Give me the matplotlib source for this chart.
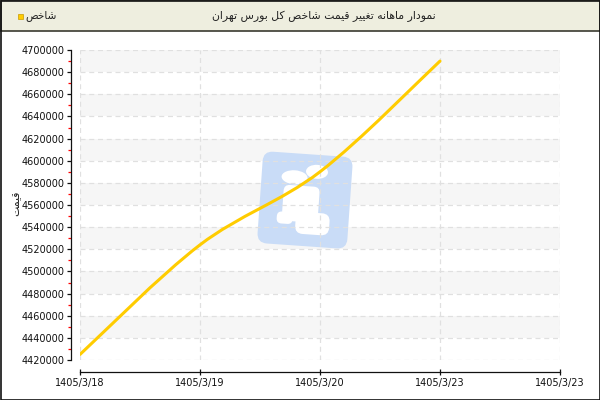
import matplotlib
matplotlib.use("Agg")
import matplotlib.pyplot as plt
import numpy as np
from matplotlib.patches import Rectangle, FancyBboxPatch, Ellipse
from matplotlib.path import Path
from matplotlib.patches import PathPatch
import matplotlib.transforms as mtransforms

# ---------------- data ----------------
categories = ["1405/3/18", "1405/3/19", "1405/3/20", "1405/3/23", "1405/3/23"]
values = [4425000, 4524000, 4590000, 4690000]
title_text = "نمودار ماهانه تغییر قیمت شاخص کل بورس تهران"
legend_text = "شاخص"
ylabel_text = "قیمت"
y_ticks = list(range(4420000, 4700001, 20000))

# ---------------- minimal Persian shaping ----------------
FORMS = {
    "ن": (0xFEE5, 0xFEE6, 0xFEE7, 0xFEE8),
    "م": (0xFEE1, 0xFEE2, 0xFEE3, 0xFEE4),
    "و": (0xFEED, 0xFEEE, None, None),
    "د": (0xFEA9, 0xFEAA, None, None),
    "ا": (0xFE8D, 0xFE8E, None, None),
    "ر": (0xFEAD, 0xFEAE, None, None),
    "ه": (0xFEE9, 0xFEEA, 0xFEEB, 0xFEEC),
    "ت": (0xFE95, 0xFE96, 0xFE97, 0xFE98),
    "غ": (0xFECD, 0xFECE, 0xFECF, 0xFED0),
    "ی": (0xFBFC, 0xFBFD, 0xFBFE, 0xFBFF),
    "ق": (0xFED5, 0xFED6, 0xFED7, 0xFED8),
    "ش": (0xFEB5, 0xFEB6, 0xFEB7, 0xFEB8),
    "خ": (0xFEA5, 0xFEA6, 0xFEA7, 0xFEA8),
    "ص": (0xFEB9, 0xFEBA, 0xFEBB, 0xFEBC),
    "ک": (0xFB8E, 0xFB8F, 0xFB90, 0xFB91),
    "ل": (0xFEDD, 0xFEDE, 0xFEDF, 0xFEE0),
    "ب": (0xFE8F, 0xFE90, 0xFE91, 0xFE92),
    "س": (0xFEB1, 0xFEB2, 0xFEB3, 0xFEB4),
}


def shape(text):
    out = []
    n = len(text)
    for i, ch in enumerate(text):
        if ch not in FORMS:
            out.append(ch)
            continue
        iso, fin, ini, med = FORMS[ch]
        prev = text[i - 1] if i > 0 else None
        nxt = text[i + 1] if i < n - 1 else None
        join_prev = prev in FORMS and FORMS[prev][2] is not None
        join_next = nxt in FORMS and ini is not None
        if join_prev and join_next:
            cp = med
        elif join_prev:
            cp = fin
        elif join_next:
            cp = ini
        else:
            cp = iso
        out.append(chr(cp))
    return "".join(out)[::-1]


plt.rcParams["font.family"] = ["DejaVu Sans"]

# ---------------- figure ----------------
fig = plt.figure(figsize=(6, 4), dpi=100)
fig.patch.set_facecolor("white")
W, H = 600, 400


def fx(px):
    return px / W


def fy(py):
    return 1 - py / H


# header band
fig.patches.append(Rectangle((fx(0.5), fy(31)), fx(599), 31 / H, transform=fig.transFigure,
                             facecolor="#EEEEDF", edgecolor="#3a3a30", linewidth=1.2, zorder=0))
# outer border
fig.patches.append(Rectangle((fx(0.5), fy(399.5)), fx(599), 399 / H, transform=fig.transFigure,
                             facecolor="none", edgecolor="#111111", linewidth=1.2, zorder=5))

fig.text(fx(324), fy(16), shape(title_text), ha="center", va="center", fontsize=7.8, color="#222222")
fig.patches.append(Rectangle((fx(18), fy(19)), fx(5), 5 / H, transform=fig.transFigure,
                             facecolor="#FFCC00", edgecolor="#c89a00", linewidth=0.5))
fig.text(fx(25), fy(16), shape(legend_text), ha="left", va="center", fontsize=7.6, color="#222222")

ax = fig.add_axes([fx(80), fy(360), fx(480), 310 / H])
ax.set_xlim(0, 4)
ax.set_ylim(4420000, 4700000)

# alternating bands
for i, yv in enumerate(y_ticks[:-1]):
    if i % 2 == 1:
        ax.axhspan(yv, yv + 20000, color="#F6F6F6", zorder=0, lw=0)

# grid
for yv in y_ticks:
    ax.axhline(yv, color="#E0E0E0", lw=0.9, ls=(0, (4, 3)), zorder=1)
for xv in range(len(categories)):
    ax.axvline(xv, color="#E0E0E0", lw=0.9, ls=(0, (4, 3)), zorder=1)

# watermark logo (figure pixel coords, y down), drawn inside the axes under grid and line
rot = mtransforms.Affine2D().rotate_deg_around(304, 200, 4)
pix = mtransforms.Affine2D().scale(1, -1).translate(0, H)
tr = rot + pix


def add_logo(p):
    p.set_transform(tr)
    p.set_clip_on(False)
    ax.add_patch(p)


add_logo(FancyBboxPatch((260, 154), 90, 92, boxstyle="round,pad=0,rounding_size=10",
                        facecolor="#C9DCF7", edgecolor="none", zorder=0.6))
for (cx, cy, w, h) in [(293, 178, 26, 14), (315, 171, 22, 14)]:
    add_logo(Ellipse((cx, cy), w, h, facecolor="white", edgecolor="none", zorder=0.7))
add_logo(FancyBboxPatch((283, 186), 36, 36, boxstyle="round,pad=0,rounding_size=6",
                        facecolor="white", edgecolor="none", zorder=0.7))
add_logo(FancyBboxPatch((297, 212), 34, 22, boxstyle="round,pad=0,rounding_size=8",
                        facecolor="white", edgecolor="none", zorder=0.7))
add_logo(FancyBboxPatch((278, 213), 16, 12, boxstyle="round,pad=0,rounding_size=5",
                        facecolor="white", edgecolor="none", zorder=0.7))

# smooth line through data (Catmull-Rom as Bezier path)
xs = np.arange(len(values), dtype=float)
ys = np.array(values, dtype=float)
pts = np.column_stack([xs, ys])
verts = [tuple(pts[0])]
codes = [Path.MOVETO]
for i in range(len(pts) - 1):
    p0 = pts[i - 1] if i > 0 else pts[i]
    p1 = pts[i]
    p2 = pts[i + 1]
    p3 = pts[i + 2] if i + 2 < len(pts) else pts[i + 1]
    c1 = p1 + (p2 - p0) / 6.0
    c2 = p2 - (p3 - p1) / 6.0
    verts += [tuple(c1), tuple(c2), tuple(p2)]
    codes += [Path.CURVE4] * 3
ax.add_patch(PathPatch(Path(verts, codes), facecolor="none", edgecolor="#FFCC00",
                       lw=2.2, zorder=6, capstyle="round"))

# spines / ticks
for s in ["top", "right"]:
    ax.spines[s].set_visible(False)
ax.spines["left"].set_position(("outward", 9 * 0.72))
ax.spines["bottom"].set_position(("outward", 12 * 0.72))
ax.spines["left"].set_color("#111111")
ax.spines["bottom"].set_color("#111111")
ax.spines["left"].set_linewidth(0.9)
ax.spines["bottom"].set_linewidth(0.9)

ax.set_yticks(y_ticks)
ax.set_yticklabels([str(v) for v in y_ticks], fontsize=7, color="#111111")
ax.set_yticks([v + 10000 for v in y_ticks[:-1]], minor=True)
ax.tick_params(axis="y", which="major", length=3, width=0.9, color="#111111", pad=1.5)
ax.tick_params(axis="y", which="minor", length=2.5, width=0.9, color="#FF0000")
ax.set_xticks(range(len(categories)))
ax.set_xticklabels(categories, fontsize=7, color="#111111")
ax.tick_params(axis="x", which="major", direction="inout", length=5, width=0.9, color="#111111", pad=2)

fig.text(fx(16), fy(203), shape(ylabel_text), rotation=90, ha="center", va="center",
         fontsize=7.8, color="#222222")

fig.savefig("out.png", dpi=100, facecolor="white")
